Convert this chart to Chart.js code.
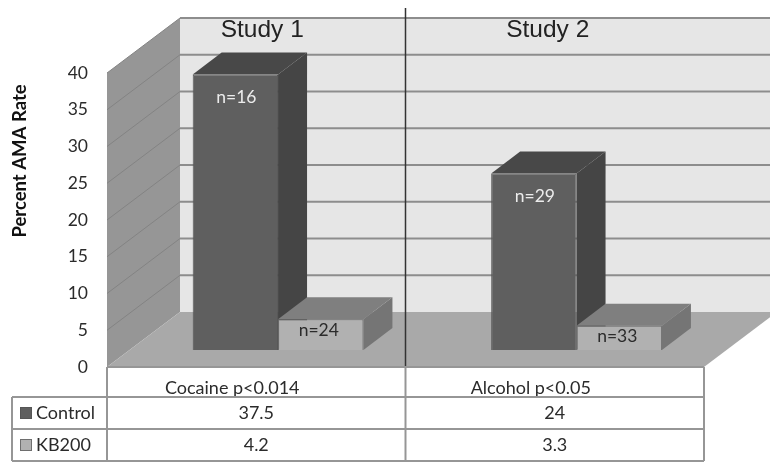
<!DOCTYPE html>
<html>
<head>
<meta charset="utf-8">
<title>Percent AMA Rate</title>
<script src="https://cdn.jsdelivr.net/npm/chart.js@4/dist/chart.umd.min.js"></script>
<style>
    html, body { margin: 0; padding: 0; background: #fff; }
    canvas { display: block; }
</style>
</head>
<body>
<canvas id="chart" width="770" height="462"></canvas>
<script>
const categories = ['Cocaine p<0.014', 'Alcohol p<0.05'];
const studies = ['Study 1', 'Study 2'];
const control = [37.5, 24];
const kb200 = [4.2, 3.3];
const controlN = ['n=16', 'n=29'];
const kb200N = ['n=24', 'n=33'];

const FONT = 'Lato, "Open Sans", sans-serif';

// oblique projection: full depth of the box, and where the bars sit in it
const WALL = { dx: 73, dy: -55 };
const BAR_PLANE = { dx: 21.8, dy: -17 };
const BAR_DEPTH = { dx: 29, dy: -22 };

const COLORS = {
    wall: '#e6e6e6',
    gridBack: '#8d8d8d',
    side: '#969696',
    gridSide: '#838383',
    floor: '#a9a9a9',
    table: '#969696',
    divider: '#333333',
    text: '#2b2b2b'
};

const faces = [
    { front: '#5f5f5f', edge: '#555555', side: '#454545', top: '#484848', label: '#ececec' },
    { front: '#b1b1b1', edge: '#6e6e6e', side: '#757575', top: '#7f7f7f', label: '#2b2b2b' }
];

function poly(ctx, pts, fill) {
    ctx.beginPath();
    pts.forEach((p, i) => i ? ctx.lineTo(p[0], p[1]) : ctx.moveTo(p[0], p[1]));
    ctx.closePath();
    ctx.fillStyle = fill;
    ctx.fill();
}

function line(ctx, x1, y1, x2, y2, color, width) {
    ctx.beginPath();
    ctx.moveTo(x1, y1);
    ctx.lineTo(x2, y2);
    ctx.strokeStyle = color;
    ctx.lineWidth = width;
    ctx.stroke();
}

const box3d = {
    id: 'box3d',
    beforeDatasetsDraw(chart) {
        const { ctx, chartArea: a, scales: { y } } = chart;
        const { dx, dy } = WALL;
        const y0 = y.getPixelForValue(0);
        const yTop = y.getPixelForValue(40);

        ctx.save();
        ctx.fillStyle = COLORS.wall;
        ctx.fillRect(a.left + dx, yTop + dy, a.width, y0 - yTop);
        poly(ctx, [[a.left, yTop], [a.left + dx, yTop + dy], [a.left + dx, y0 + dy], [a.left, y0]], COLORS.side);
        poly(ctx, [[a.left, y0], [a.right, y0], [a.right + dx, y0 + dy], [a.left + dx, y0 + dy]], COLORS.floor);

        y.ticks.forEach(t => {
            const py = y.getPixelForValue(t.value);
            if (t.value > 0) {
                line(ctx, a.left + dx, py + dy, a.right + dx, py + dy, COLORS.gridBack, 2);
                line(ctx, a.left, py, a.left + dx, py + dy, COLORS.gridSide, 1);
            }
        });
        ctx.restore();

        // everything up to afterDatasetsDraw sits on the bar plane
        ctx.save();
        ctx.translate(BAR_PLANE.dx, BAR_PLANE.dy);
        chart.data.datasets.forEach((ds, i) => {
            const c = faces[i];
            chart.getDatasetMeta(i).data.forEach(bar => {
                const l = bar.x - bar.width / 2;
                const r = bar.x + bar.width / 2;
                const d = BAR_DEPTH;
                poly(ctx, [[r, bar.y], [r + d.dx, bar.y + d.dy], [r + d.dx, bar.base + d.dy], [r, bar.base]], c.side);
                poly(ctx, [[l, bar.y], [l + d.dx, bar.y + d.dy], [r + d.dx, bar.y + d.dy], [r, bar.y]], c.top);
            });
        });
    },
    afterDatasetsDraw(chart) {
        const { ctx } = chart;
        ctx.textAlign = 'center';
        ctx.textBaseline = 'middle';
        ctx.font = '17.5px ' + FONT;
        [controlN, kb200N].forEach((labels, i) => {
            chart.getDatasetMeta(i).data.forEach((bar, j) => {
                ctx.fillStyle = faces[i].label;
                ctx.fillText(labels[j], bar.x + (i === 0 ? 1 : -2), bar.y + (i === 0 ? 23 : 11));
            });
        });
        ctx.restore();

        drawOverlay(chart);
    }
};

// divider, study headings, axis title and the data table under the axis
function drawOverlay(chart) {
    const { ctx, chartArea: a, scales: { x, y } } = chart;
    const y0 = y.getPixelForValue(0);
    const mid = (x.getPixelForValue(0) + x.getPixelForValue(1)) / 2;
    const rows = [397, 429, 461];
    const tableLeft = 12;

    ctx.save();
    line(ctx, mid, 8, mid, y0, COLORS.divider, 1.5);

    ctx.fillStyle = '#222222';
    ctx.textAlign = 'center';
    ctx.textBaseline = 'middle';
    ctx.font = '24.5px "Liberation Sans", Arial, sans-serif';
    ctx.fillText(studies[0], x.getPixelForValue(0) + 6, 30);
    ctx.fillText(studies[1], x.getPixelForValue(1) - 7, 30);

    ctx.save();
    ctx.translate(20, 161);
    ctx.rotate(-Math.PI / 2);
    ctx.fillStyle = '#111111';
    ctx.font = 'bold 18.5px ' + FONT;
    ctx.fillText('Percent AMA Rate', 0, 0);
    ctx.restore();

    line(ctx, a.left, y0, a.right, y0, COLORS.table, 2);
    rows.forEach(ry => line(ctx, tableLeft, ry, a.right, ry, COLORS.table, 2));
    line(ctx, tableLeft, rows[0], tableLeft, rows[2], COLORS.table, 2);
    line(ctx, a.left, y0, a.left, rows[2], COLORS.table, 2);
    line(ctx, mid, y0, mid, rows[2], COLORS.table, 2);
    line(ctx, a.right, y0, a.right, rows[2], COLORS.table, 2);

    ctx.font = '18px ' + FONT;
    [control, kb200].forEach((values, i) => {
        const cy = (rows[i] + rows[i + 1]) / 2;
        ctx.fillStyle = faces[i].edge;
        ctx.fillRect(20, cy - 6, 12, 12);
        ctx.fillStyle = faces[i].front;
        ctx.fillRect(21, cy - 5, 10, 10);
        ctx.fillStyle = COLORS.text;
        ctx.textAlign = 'left';
        ctx.fillText(chart.data.datasets[i].label, 36, cy);
        ctx.textAlign = 'center';
        values.forEach((v, j) => ctx.fillText(String(v), x.getPixelForValue(j), cy));
    });
    ctx.restore();
}

new Chart(document.getElementById('chart'), {
    type: 'bar',
    data: {
        labels: categories,
        datasets: [
            { label: 'Control', data: control, backgroundColor: faces[0].front, borderColor: faces[0].edge, borderWidth: 1, clip: false },
            { label: 'KB200', data: kb200, backgroundColor: faces[1].front, borderColor: faces[1].edge, borderWidth: 1, clip: false }
        ]
    },
    plugins: [box3d],
    options: {
        responsive: false,
        animation: false,
        categoryPercentage: 0.572,
        barPercentage: 1,
        layout: { padding: { top: 73, right: 66, bottom: 0, left: 0 } },
        plugins: { legend: { display: false }, tooltip: { enabled: false } },
        scales: {
            x: {
                grid: { display: false },
                border: { display: false },
                afterFit: s => { s.height = 95; },
                ticks: {
                    color: COLORS.text,
                    font: { family: FONT, size: 18 },
                    labelOffset: -24,
                    padding: 2,
                    maxRotation: 0
                }
            },
            y: {
                min: 0,
                max: 40,
                grid: { display: false },
                border: { display: false },
                afterFit: s => { s.width = 107; },
                ticks: {
                    stepSize: 5,
                    color: COLORS.text,
                    font: { family: FONT, size: 17.5 },
                    padding: 11
                }
            }
        }
    }
});
</script>
</body>
</html>
